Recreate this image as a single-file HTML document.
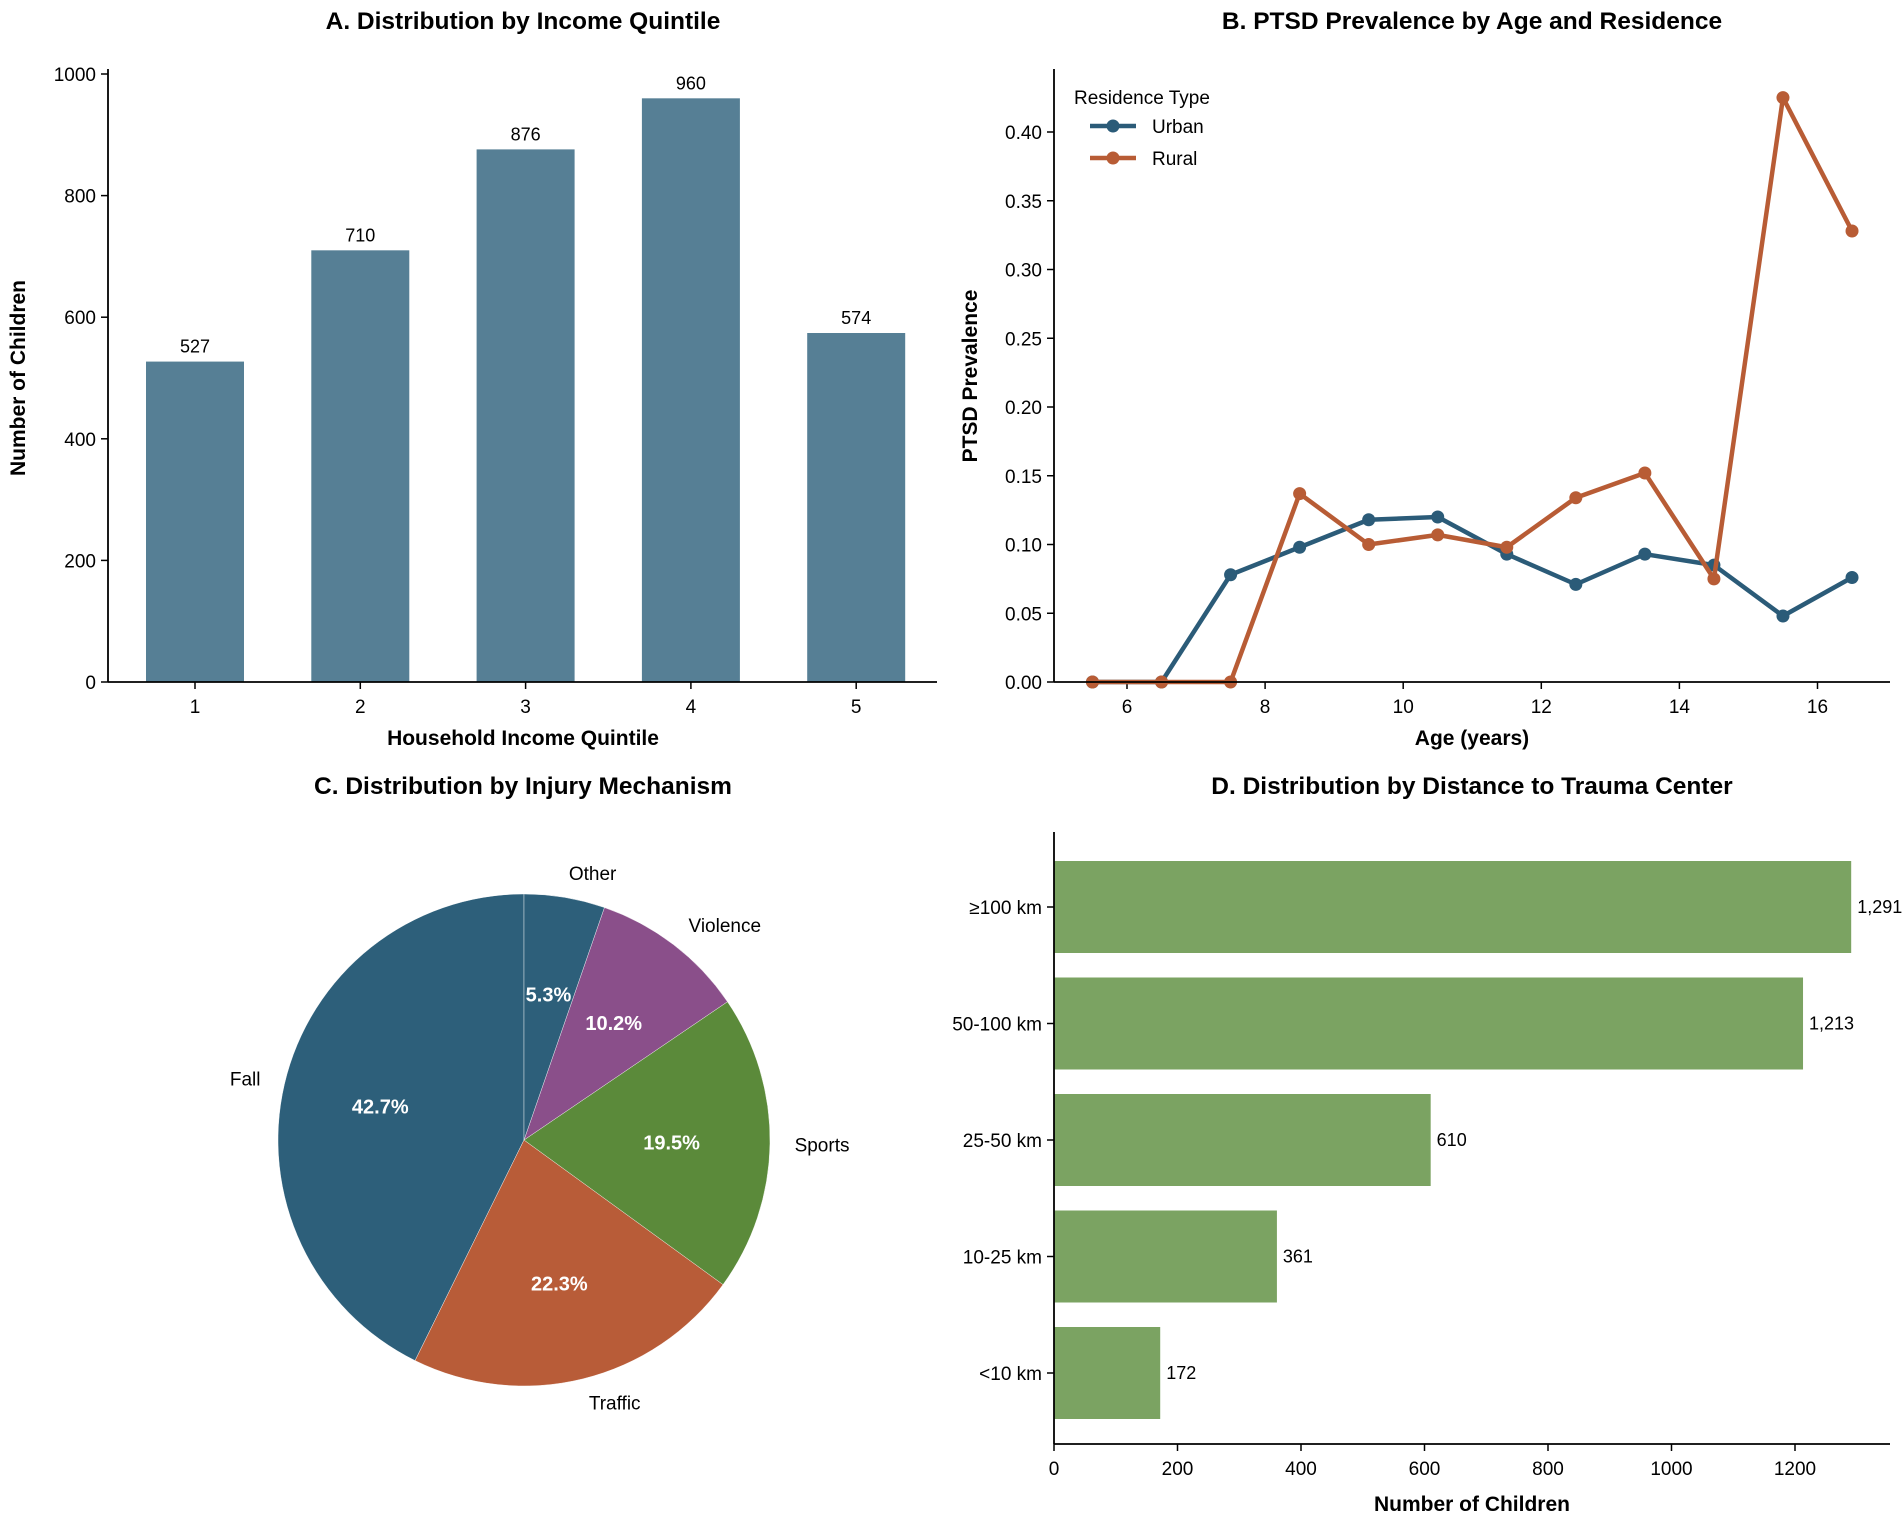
<!DOCTYPE html>
<html><head><meta charset="utf-8">
<style>
body{margin:0;background:#fff;}
svg{display:block;font-family:"Liberation Sans",Arial,sans-serif;}
</style></head>
<body>
<svg id="fig" width="1902" height="1519" viewBox="0 0 1902 1519"></svg>
<script>
// Panel A data
const quintiles = ["1","2","3","4","5"];
const quintileCounts = [527,710,876,960,574];
const aTicks = [0,200,400,600,800,1000];
// Panel B data
const ages = [5.5,6.5,7.5,8.5,9.5,10.5,11.5,12.5,13.5,14.5,15.5,16.5];
const urbanPrev = [0,0,0.078,0.098,0.118,0.120,0.093,0.071,0.093,0.085,0.048,0.076];
const ruralPrev = [0,0,0,0.137,0.100,0.107,0.098,0.134,0.152,0.075,0.425,0.328];
const bXTicks = [6,8,10,12,14,16];
const bYTicks = [0,0.05,0.10,0.15,0.20,0.25,0.30,0.35,0.40];
// Panel C data
const mechanisms = ["Fall","Traffic","Sports","Violence","Other"];
const mechanismPct = [42.7,22.3,19.5,10.2,5.3];
// Panel D data
const distances = ["<10 km","10-25 km","25-50 km","50-100 km","≥100 km"];
const distanceCounts = [172,361,610,1213,1291];
const dTicks = [0,200,400,600,800,1000,1200];

const NS="http://www.w3.org/2000/svg";
const svg=document.getElementById('fig');
function el(tag,attrs,parent){const e=document.createElementNS(NS,tag);for(const k in attrs)e.setAttribute(k,attrs[k]);(parent||svg).appendChild(e);return e;}
function txt(s,attrs,parent){const e=el('text',attrs,parent);e.textContent=s;return e;}
const TF=24.5, LF=21, KF=19, VF=18;

// ---------- Panel A ----------
const gA=el('g',{});


const ax0=108, axR=937, ay0=682, ayPer=(682-74)/1000;
const axX=q=>195+(q-1)*165.3;
const ayY=v=>ay0-v*ayPer;
let t=txt('A. Distribution by Income Quintile',{x:523,y:29,'text-anchor':'middle','font-size':TF,'font-weight':'bold'},gA);

quintileCounts.forEach((v,i)=>{
  const cx=axX(i+1);
  const r=el('rect',{x:cx-49,y:ayY(v),width:98,height:ayY(0)-ayY(v),fill:'#567f95'},gA);
  
  
  const l=txt(String(v),{x:cx,y:ayY(v)-9,'text-anchor':'middle','font-size':VF},gA);
  
  
  el('line',{x1:cx,y1:ay0,x2:cx,y2:ay0+7,stroke:'#000','stroke-width':1.5},gA);
  const tl=txt(quintiles[i],{x:cx,y:ay0+31,'text-anchor':'middle','font-size':KF},gA);
  
  
});
aTicks.forEach(v=>{
  el('line',{x1:ax0-7,y1:ayY(v),x2:ax0,y2:ayY(v),stroke:'#000','stroke-width':1.5},gA);
  const tl=txt(String(v),{x:ax0-12,y:ayY(v)+7,'text-anchor':'end','font-size':KF},gA);
  
  
});
el('line',{x1:ax0,y1:69,x2:ax0,y2:ay0,stroke:'#000','stroke-width':1.8},gA);
el('line',{x1:ax0,y1:ay0,x2:axR,y2:ay0,stroke:'#000','stroke-width':1.8},gA);
t=txt('Household Income Quintile',{x:523,y:745,'text-anchor':'middle','font-size':LF,'font-weight':'bold'},gA);

t=txt('Number of Children',{x:0,y:0,'text-anchor':'middle','font-size':LF,'font-weight':'bold',transform:'translate(25,378) rotate(-90)'},gA);


// ---------- Panel B ----------
const gB=el('g',{});


const bx0=1054, bxR=1890, by0=682;
const bX=a=>1127+(a-6)*69.05;
const bY=v=>by0-v*(682-132)/0.40;
t=txt('B. PTSD Prevalence by Age and Residence',{x:1472,y:29,'text-anchor':'middle','font-size':TF,'font-weight':'bold'},gB);

bXTicks.forEach(v=>{
  el('line',{x1:bX(v),y1:by0,x2:bX(v),y2:by0+7,stroke:'#000','stroke-width':1.5},gB);
  const tl=txt(String(v),{x:bX(v),y:by0+31,'text-anchor':'middle','font-size':KF},gB);
  
  
});
bYTicks.forEach(v=>{
  el('line',{x1:bx0-7,y1:bY(v),x2:bx0,y2:bY(v),stroke:'#000','stroke-width':1.5},gB);
  const tl=txt(v.toFixed(2),{x:bx0-12,y:bY(v)+7,'text-anchor':'end','font-size':KF},gB);
  
  
});
function series(vals,color,name){
  const g=el('g',{},gB);
  
  
  const pts=vals.map((v,i)=>bX(ages[i])+','+bY(v)).join(' ');
  el('polyline',{points:pts,fill:'none',stroke:color,'stroke-width':4.5,'stroke-linejoin':'round'},g);
  vals.forEach((v,i)=>{
    const c=el('circle',{cx:bX(ages[i]),cy:bY(v),r:6.5,fill:color},g);
    
    
  });
}
series(urbanPrev,'#2b5b78','urban');
series(ruralPrev,'#b85c35','rural');
el('line',{x1:bx0,y1:69,x2:bx0,y2:by0,stroke:'#000','stroke-width':1.8},gB);
el('line',{x1:bx0,y1:by0,x2:bxR,y2:by0,stroke:'#000','stroke-width':1.8},gB);
const lg=el('g',{},gB);


t=txt('Residence Type',{x:1074,y:104,'font-size':KF},lg);

[['Urban','#2b5b78',126],['Rural','#b85c35',158]].forEach(([n,c,y])=>{
  const g=el('g',{},lg);
  
  
  el('line',{x1:1090,y1:y,x2:1136,y2:y,stroke:c,'stroke-width':4.5},g);
  el('circle',{cx:1113,cy:y,r:6.5,fill:c},g);
  txt(n,{x:1152,y:y+7,'font-size':KF},g);
});
t=txt('Age (years)',{x:1472,y:745,'text-anchor':'middle','font-size':LF,'font-weight':'bold'},gB);

t=txt('PTSD Prevalence',{x:0,y:0,'text-anchor':'middle','font-size':LF,'font-weight':'bold',transform:'translate(977,376) rotate(-90)'},gB);


// ---------- Panel C ----------
const gC=el('g',{});


t=txt('C. Distribution by Injury Mechanism',{x:523,y:794,'text-anchor':'middle','font-size':TF,'font-weight':'bold'},gC);

const pcx=524, pcy=1140, pr=246;
const pieColors=['#2d5f7a','#b85c38','#5b8a3a','#8a4f8a','#2d5f7a'];
const total=mechanismPct.reduce((a,b)=>a+b,0);
let ang=90;
mechanismPct.forEach((p,i)=>{
  const sweep=p/total*360;
  const a0=ang*Math.PI/180, a1=(ang+sweep)*Math.PI/180;
  const x0=pcx+pr*Math.cos(a0), y0=pcy-pr*Math.sin(a0);
  const x1=pcx+pr*Math.cos(a1), y1=pcy-pr*Math.sin(a1);
  const large=sweep>180?1:0;
  const path=el('path',{d:`M${pcx},${pcy} L${x0},${y0} A${pr},${pr} 0 ${large} 0 ${x1},${y1} Z`,fill:pieColors[i],stroke:'#fff','stroke-width':0.4},gC);
  
  
  const mid=(ang+sweep/2)*Math.PI/180;
  const lx=pcx+1.1*pr*Math.cos(mid), ly=pcy-1.1*pr*Math.sin(mid);
  const anchor=Math.cos(mid)<-0.01?'end':(Math.cos(mid)>0.01?'start':'middle');
  const l=txt(mechanisms[i],{x:lx,y:ly+7,'text-anchor':anchor,'font-size':KF},gC);
  
  
  const px=pcx+0.6*pr*Math.cos(mid), py=pcy-0.6*pr*Math.sin(mid);
  const pl=txt(p.toFixed(1)+'%',{x:px,y:py+7,'text-anchor':'middle','font-size':20,'font-weight':'bold',fill:'#fff'},gC);
  
  
  ang+=sweep;
});

// ---------- Panel D ----------
const gD=el('g',{});


t=txt('D. Distribution by Distance to Trauma Center',{x:1472,y:794,'text-anchor':'middle','font-size':TF,'font-weight':'bold'},gD);

const dx0=1054, dxR=1890, dyTop=832, dyBot=1444;
const dX=v=>dx0+v*(1795-1054)/1200;
const dY=i=>1373-i*116.5;
distanceCounts.forEach((v,i)=>{
  const cy=dY(i);
  const r=el('rect',{x:dx0,y:cy-46,width:dX(v)-dx0,height:92,fill:'#7ba362'},gD);
  
  
  const l=txt(v.toLocaleString('en-US'),{x:dX(v)+6,y:cy+6,'font-size':VF},gD);
  
  
  el('line',{x1:dx0-7,y1:cy,x2:dx0,y2:cy,stroke:'#000','stroke-width':1.5},gD);
  const tl=txt(distances[i],{x:dx0-12,y:cy+7,'text-anchor':'end','font-size':KF},gD);
  
  
});
dTicks.forEach(v=>{
  el('line',{x1:dX(v),y1:dyBot,x2:dX(v),y2:dyBot+7,stroke:'#000','stroke-width':1.5},gD);
  const tl=txt(String(v),{x:dX(v),y:dyBot+31,'text-anchor':'middle','font-size':KF},gD);
  
  
});
el('line',{x1:dx0,y1:dyTop,x2:dx0,y2:dyBot,stroke:'#000','stroke-width':1.8},gD);
el('line',{x1:dx0,y1:dyBot,x2:dxR,y2:dyBot,stroke:'#000','stroke-width':1.8},gD);
t=txt('Number of Children',{x:1472,y:1511,'text-anchor':'middle','font-size':LF,'font-weight':'bold'},gD);

</script>
</body></html>
